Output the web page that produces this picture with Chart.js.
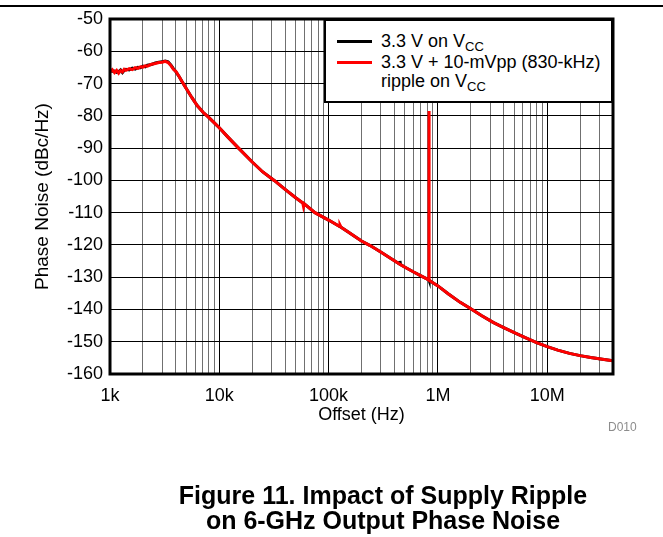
<!DOCTYPE html>
<html><head><meta charset="utf-8">
<script src="https://cdn.jsdelivr.net/npm/chart.js@4/dist/chart.umd.min.js"></script>
<style>
html,body{margin:0;padding:0;background:#fff;}
body{width:663px;height:537px;position:relative;overflow:hidden;font-family:"Liberation Sans",Arial,sans-serif;color:#000;}
#topline{position:absolute;left:0;top:5px;width:663px;height:2px;background:#000;}
#c{position:absolute;left:0;top:0;}
#legend{position:absolute;left:324px;top:19px;width:289px;height:84px;background:#fff;border:2px solid #000;box-sizing:border-box;}
.row{position:absolute;left:0;height:20px;line-height:20px;font-size:18px;white-space:nowrap;}
.sw{position:absolute;left:11px;top:9px;width:35px;height:3px;}
.txt{position:absolute;left:55px;top:0;}
sub{font-size:13px;vertical-align:-4px;line-height:0;}
#d010{position:absolute;left:608px;top:420px;font-size:12px;color:#8c8c8c;}
#cap{position:absolute;left:83px;top:483px;width:600px;text-align:center;font-weight:bold;font-size:25px;line-height:25px;}
</style></head>
<body>
<div id="topline"></div>
<canvas id="c" width="663" height="537"></canvas>
<div id="legend">
  <div class="row" style="top:10px;width:280px"><span class="sw" style="background:#000"></span><span class="txt">3.3 V on V<sub>CC</sub></span></div>
  <div class="row" style="top:31px;width:280px"><span class="sw" style="background:#ff0000"></span><span class="txt">3.3 V + 10-mVpp (830-kHz)</span></div>
  <div class="row" style="top:50px;width:280px"><span class="txt">ripple on V<sub>CC</sub></span></div>
</div>
<div id="d010">D010</div>
<div id="cap">Figure 11. Impact of Supply Ripple<br>on 6-GHz Output Phase Noise</div>
<script>
const freqHz = [1000,1050,1100,1150,1200,1250,1300,1350,1400,1500,1600,1700,1800,1900,2000,2100,2200,2400,2600,2800,3000,3200,3400,3600,3800,4000,4300,4600,5000,5600,6300,7100,8000,9000,10000,12000,15000,20000,25000,32000,40000,50000,58000,59000,60000,75000,100000,125000,127000,130000,150000,200000,240000,300000,400000,445000,450000,455000,500000,600000,700000,800000,829000,830000,831000,900000,1000000,1250000,1600000,2000000,2500000,3200000,4000000,5000000,6300000,8000000,10000000,12500000,16000000,20000000,25000000,32000000,40000000];
const noRippleDb = [-66.0,-66.2,-66.1,-66.5,-66.3,-65.8,-66.6,-65.9,-65.6,-65.8,-65.2,-65.5,-65.0,-65.1,-64.6,-64.8,-64.3,-64.1,-63.6,-63.4,-63.2,-63.0,-63.3,-64.2,-65.4,-66.3,-67.9,-69.6,-71.6,-74.3,-76.9,-78.9,-80.5,-82.2,-83.7,-86.6,-90.0,-94.3,-97.4,-100.1,-102.8,-105.4,-107.0,-107.1,-107.3,-110.0,-112.3,-114.2,-114.3,-114.5,-115.9,-118.8,-120.2,-122.2,-124.9,-125.9,-125.0,-126.1,-126.9,-128.4,-129.6,-130.6,-130.9,-130.95,-131.0,-131.7,-132.7,-135.2,-137.8,-139.8,-141.9,-144.0,-145.6,-147.2,-148.7,-150.3,-151.5,-152.6,-153.6,-154.3,-154.9,-155.4,-155.9];
const rippleDb = [-66.4,-65.7,-66.6,-65.9,-66.8,-66.0,-66.4,-65.6,-65.9,-65.4,-65.7,-65.1,-65.3,-64.8,-64.9,-64.5,-64.6,-64.0,-63.8,-63.5,-63.4,-63.1,-63.5,-64.4,-65.6,-66.2,-67.9,-69.6,-71.6,-74.3,-76.9,-78.9,-80.5,-82.2,-83.7,-86.6,-90.0,-94.3,-97.4,-100.1,-102.8,-105.4,-107.0,-108.2,-107.3,-110.0,-112.3,-114.2,-113.8,-114.5,-115.9,-118.8,-120.2,-122.2,-124.9,-125.9,-126.0,-126.1,-126.9,-128.4,-129.6,-130.6,-130.9,-78.5,-131.0,-131.7,-132.7,-135.2,-137.8,-139.8,-141.9,-144.0,-145.6,-147.2,-148.7,-150.3,-151.5,-152.6,-153.6,-154.3,-154.9,-155.4,-155.9];
const xTickLabels = {1000:'1k',10000:'10k',100000:'100k',1000000:'1M',10000000:'10M'};
const yMin = -160, yMax = -50, yStep = 10;
const xMin = 1000, xMax = 40000000;

const pts = arr => freqHz.map((f,i)=>({x:f,y:arr[i]}));
const FONT = '"Liberation Sans", Arial, sans-serif';

const frame = {
  id:'frame',
  afterDatasetsDraw(chart){
    const {ctx, chartArea:a} = chart;
    ctx.save();
    ctx.strokeStyle='#000'; ctx.lineWidth=3;
    ctx.strokeRect(a.left, a.top, a.right-a.left, a.bottom-a.top);
    ctx.restore();
  }
};

new Chart(document.getElementById('c'), {
  type:'line',
  data:{datasets:[
    {label:'3.3 V on VCC', data:pts(noRippleDb), borderColor:'#000', borderWidth:3, pointRadius:0, tension:0, order:1},
    {label:'3.3 V + 10-mVpp (830-kHz) ripple on VCC', data:pts(rippleDb), borderColor:'#ff0000', borderWidth:3, pointRadius:0, tension:0, order:0}
  ]},
  options:{
    responsive:false, animation:false, devicePixelRatio:1,
    layout:{padding:{left:0,right:50,top:19,bottom:103}},
    plugins:{legend:{display:false}, tooltip:{enabled:false}},
    scales:{
      x:{type:'logarithmic', min:xMin, max:xMax,
        afterBuildTicks(s){
          const t=[];
          for(let d=1000; d<=xMax; d*=10){ for(let m=1;m<=9;m++){ const v=d*m; if(v>=xMin && v<=xMax) t.push({value:v}); } }
          s.ticks=t;
        },
        afterFit(s){ s.height=60; },
        ticks:{autoSkip:false, maxRotation:0, padding:11, color:'#000', font:{family:FONT,size:18},
          callback:(v)=> xTickLabels[v] || ''},
        grid:{drawTicks:false, tickLength:0, lineWidth:1,
          color:(c)=> (c.tick && xTickLabels[c.tick.value]) ? '#000' : '#707070'},
        border:{display:false},
        title:{display:true, text:'Offset (Hz)', color:'#000', font:{family:FONT,size:18}, padding:{top:0,bottom:8}}
      },
      y:{min:yMin, max:yMax,
        afterFit(s){ s.width=110; },
        ticks:{stepSize:yStep, padding:7, color:'#000', font:{family:FONT,size:18}},
        grid:{drawTicks:false, tickLength:0, color:'#000', lineWidth:1},
        border:{display:false},
        title:{display:true, text:'Phase Noise (dBc/Hz)', color:'#000', font:{family:FONT,size:19}, padding:{top:31,bottom:0}}
      }
    }
  },
  plugins:[frame]
});
</script>
</body></html>
